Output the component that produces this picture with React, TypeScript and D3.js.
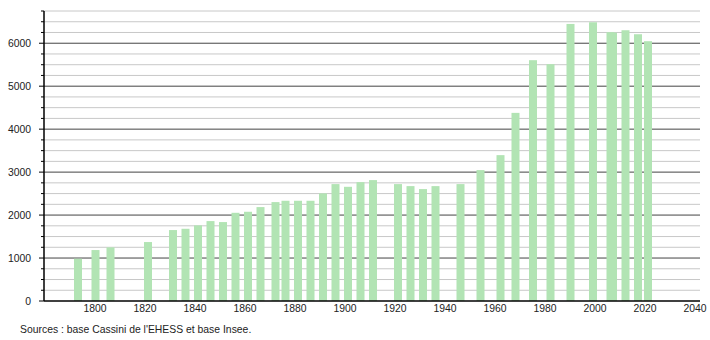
import React from "react";
import * as d3 from "d3";

const years = [1793, 1800, 1806, 1821, 1831, 1836, 1841, 1846, 1851, 1856, 1861, 1866, 1872, 1876, 1881, 1886, 1891, 1896, 1901, 1906, 1911, 1921, 1926, 1931, 1936, 1946, 1954, 1962, 1968, 1975, 1982, 1990, 1999, 2006, 2007, 2012, 2017, 2021];
const population = [985, 1186, 1249, 1372, 1651, 1681, 1760, 1860, 1837, 2053, 2077, 2186, 2302, 2333, 2333, 2333, 2505, 2721, 2658, 2767, 2814, 2721, 2674, 2605, 2674, 2721, 3047, 3395, 4379, 5605, 5512, 6449, 6488, 6256, 6245, 6302, 6209, 6047];
const xTicks = [1800, 1820, 1840, 1860, 1880, 1900, 1920, 1940, 1960, 1980, 2000, 2020, 2040];
const yMajorTicks = [0, 1000, 2000, 3000, 4000, 5000, 6000];
const sourceText = "Sources : base Cassini de l'EHESS et base Insee.";

export default function App() {
  const W = 710, H = 340;
  const left = 44, right = 700, top = 11, bottom = 301;
  const x = d3.scaleLinear().domain([1780, 2042]).range([45, 700]);
  const y = d3.scaleLinear().domain([0, 6750]).range([bottom, top]);
  const minorTicks = d3.range(0, 6751, 250);
  const font = "'Liberation Sans', Arial, sans-serif";
  const fs = 10.4;
  const barW = 8;
  return (
    <svg width={W} height={H} style={{ position: "absolute", left: 0, top: 0, background: "#fff" }}>
      <rect x={0} y={0} width={W} height={H} fill="#fff" />
      {minorTicks.filter(v => v % 1000 !== 0).map(v => (
        <line key={"g" + v} x1={left} x2={right} y1={y(v)} y2={y(v)} stroke="#c8c8c8" strokeWidth={1} />
      ))}
      {yMajorTicks.filter(v => v > 0).map(v => (
        <line key={"G" + v} x1={left} x2={right} y1={y(v)} y2={y(v)} stroke="#444" strokeWidth={1} />
      ))}
      {years.map((yr, i) => (
        <rect key={yr} x={x(yr) - barW / 2 + 0.5} y={y(population[i])} width={barW} height={y(0) - y(population[i])} fill="#b2e4b4" />
      ))}
      <line x1={left} x2={right} y1={y(0)} y2={y(0)} stroke="#000" strokeWidth={1.5} />
      <line x1={left} x2={left} y1={y(6750)} y2={y(0)} stroke="#000" strokeWidth={1.5} />
      {minorTicks.map(v => (
        <line key={"t" + v} x1={v % 1000 === 0 ? left - 5 : left - 3} x2={left} y1={y(v)} y2={y(v)} stroke="#000" strokeWidth={1} />
      ))}
      {yMajorTicks.map(v => (
        <text key={"l" + v} x={31} y={y(v) + 4} textAnchor="end" fontFamily={font} fontSize={fs} fill="#222">{v}</text>
      ))}
      {xTicks.map(v => (
        <text key={"x" + v} x={x(v)} y={312} textAnchor="middle" fontFamily={font} fontSize={fs} fill="#222">{v}</text>
      ))}
      <text x={20} y={333} fontFamily={font} fontSize={fs} fill="#222">{sourceText}</text>
    </svg>
  );
}
